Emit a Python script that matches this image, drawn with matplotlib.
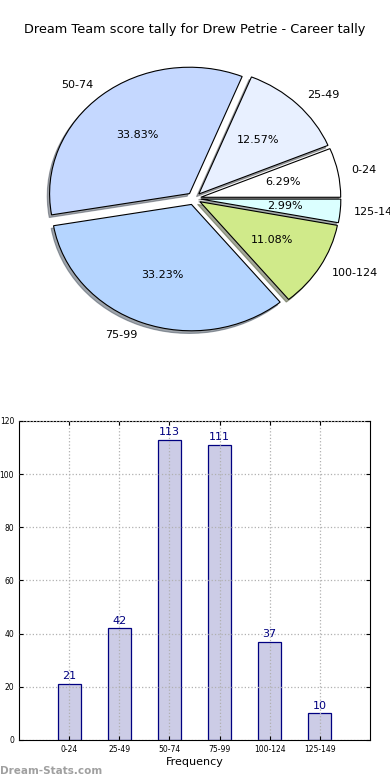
import matplotlib
matplotlib.use('Agg')
import matplotlib.pyplot as plt
import numpy as np

categories = ['0-24', '25-49', '50-74', '75-99', '100-124', '125-149']
counts = [21, 42, 113, 111, 37, 10]
pie_colors = ['#ffffff', '#e8f0ff', '#c5d8ff', '#b5d5ff', '#d0ea8a', '#dbffff']
explode = [0.05, 0.05, 0.05, 0.05, 0.05, 0.05]

title = 'Dream Team score tally for Drew Petrie - Career tally'

fig = plt.figure(figsize=(3.9, 7.8), dpi=100)
fig.text(0.5, 1 - 30 / 780, title, ha='center', va='center', fontsize=9.3)

# pie (elliptical, like the old matplotlib default)
ax1 = fig.add_axes([0.0487, 0.543, 0.897, 0.405])
wedges, texts, autotexts = ax1.pie(counts, labels=categories, colors=pie_colors,
                                   explode=explode, autopct='%.2f%%',
                                   shadow={'ox': -0.012, 'oy': -0.015, 'shade': 0.65},
                                   startangle=0,
                                   wedgeprops={'linewidth': 0.8, 'edgecolor': 'black'},
                                   textprops={'fontsize': 8})
ax1.set_aspect('auto')

# bar chart
ax2 = fig.add_axes([0.0487, 0.0513, 0.9, 0.409])
x = np.arange(len(categories))
ax2.bar(x, counts, width=0.46, color=(0.8, 0.8, 0.9), edgecolor='navy', linewidth=0.9,
        zorder=2)
for xi, c in zip(x, counts):
    ax2.text(xi, c + 1, str(c), ha='center', va='bottom', color='navy', fontsize=8,
             zorder=3)
ax2.set_xlim(-1, 6)
ax2.set_ylim(0, 120)
ax2.set_yticks(range(0, 121, 20))
ax2.set_xticks(x)
ax2.set_xticklabels(categories)
ax2.tick_params(labelsize=5.5, direction='in', top=True, right=True, length=3)
ax2.grid(True, linestyle=':', color='#b0b0b0', linewidth=0.9, zorder=3)
ax2.set_axisbelow(False)
ax2.set_xlabel('Frequency', fontsize=8, labelpad=2)

fig.text(0.0, 1 - 771 / 780, 'Dream-Stats.com', ha='left', va='center', fontsize=7.5,
         fontweight='bold', color='#a0a0a0')

fig.savefig('out.png', dpi=100)
